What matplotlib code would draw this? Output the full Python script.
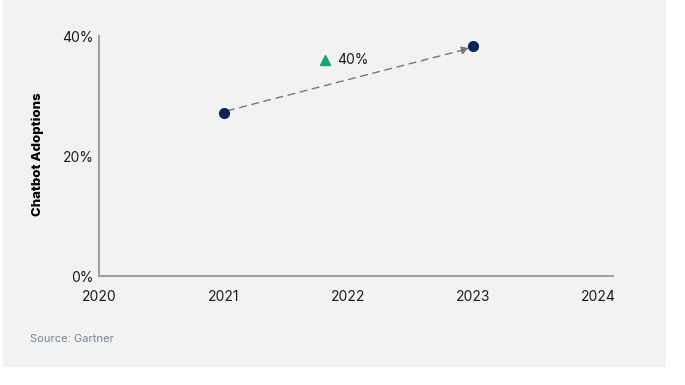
import matplotlib.pyplot as plt
from matplotlib.patches import Rectangle

years = [2021, 2023]
adoption = [27.2, 38.3]
change_label = "40%"
change_pos = (2021.81, 36.0)
x_ticks = [2020, 2021, 2022, 2023, 2024]
y_ticks = [0, 20, 40]
y_tick_labels = ["0%", "20%", "40%"]

plt.rcParams['font.family'] = ['Inter', 'DejaVu Sans']

fig = plt.figure(figsize=(6.85, 3.85), dpi=100)
fig.patch.set_facecolor("white")
bg = Rectangle((3 / 685, 1 - 367 / 385), 663 / 685, 367 / 385,
               transform=fig.transFigure, facecolor="#f2f2f2",
               edgecolor="none", zorder=-10)
fig.add_artist(bg)

ax = fig.add_axes([99 / 685, 1 - 276 / 385, 514 / 685, 240 / 385])
ax.set_facecolor("none")

# dashed arrow between the two points
ax.annotate("", xy=(years[1] - 0.03, adoption[1] - 0.35), xytext=(years[0] + 0.03, adoption[0] + 0.35),
            arrowprops=dict(arrowstyle="-|>", linestyle=(0, (5, 4)), color="#777777",
                            lw=1.0, mutation_scale=12, shrinkA=0, shrinkB=0))
ax.plot(years, adoption, linestyle="none", marker="o", markersize=7,
        color="#0b2453", zorder=3)

ax.plot([change_pos[0]], [change_pos[1]], marker="^", markersize=7.5,
        color="#12a673", linestyle="none")
ax.text(change_pos[0] + 0.1, change_pos[1], change_label, fontsize=10,
        va="center", ha="left", color="#1a1a1a")

ax.set_xlim(2020, 2024.12)
ax.set_ylim(0, 40)
ax.set_xticks(x_ticks)
ax.set_xticklabels([str(x) for x in x_ticks])
ax.set_yticks(y_ticks)
ax.set_yticklabels(y_tick_labels)
ax.tick_params(length=0, labelsize=10, colors="#1a1a1a")
ax.tick_params(axis="x", pad=10)
ax.tick_params(axis="y", pad=4)
for s in ["top", "right"]:
    ax.spines[s].set_visible(False)
for s in ["left", "bottom"]:
    ax.spines[s].set_color("#a0a0a0")
    ax.spines[s].set_linewidth(1.5)

fig.text(38 / 685, 1 - 154 / 385, "Chatbot Adoptions", rotation=90, fontsize=9.5,
         fontweight="heavy", ha="center", va="center", color="black")
fig.text(30 / 685, 1 - 339 / 385, "Source: Gartner", fontsize=8,
         ha="left", va="center", color="#7b8494")

fig.savefig("out.png", dpi=100)
